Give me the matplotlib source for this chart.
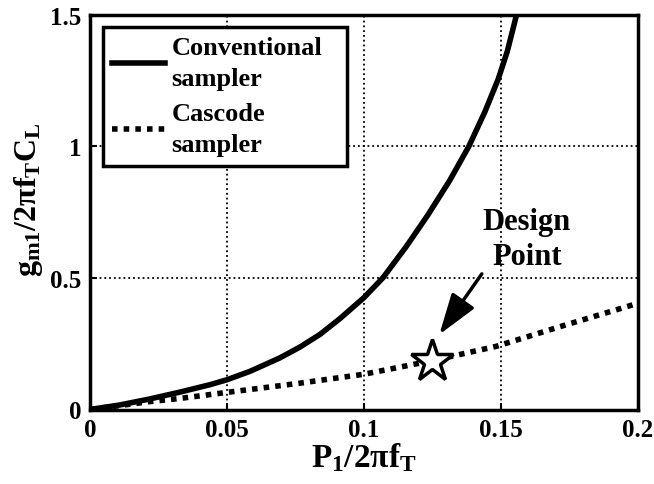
import matplotlib
matplotlib.use("Agg")
import matplotlib.pyplot as plt

# values
conv_x = [0, 0.0108, 0.0218, 0.0328, 0.0437, 0.05, 0.0584, 0.0693, 0.0766, 0.0839,
          0.0912, 0.1, 0.1069, 0.1155, 0.1234, 0.1313, 0.1383, 0.1441, 0.149,
          0.1523, 0.1557]
conv_y = [0, 0.017, 0.040, 0.066, 0.094, 0.113, 0.145, 0.196, 0.237, 0.285,
          0.345, 0.425, 0.5, 0.62, 0.74, 0.87, 1.0, 1.13, 1.255,
          1.36, 1.5]
casc_x = [0, 0.0218, 0.0328, 0.05, 0.0766, 0.1, 0.1247, 0.1483, 0.1726, 0.197, 0.2]
casc_y = [0, 0.03, 0.042, 0.065, 0.1, 0.134, 0.185, 0.24, 0.318, 0.394, 0.405]
design_x, design_y = 0.1247, 0.185

plt.rcParams['font.family'] = 'Liberation Serif'
plt.rcParams['font.weight'] = 'bold'
plt.rcParams['mathtext.fontset'] = 'custom'
plt.rcParams['mathtext.rm'] = 'Liberation Serif:bold'
plt.rcParams['mathtext.it'] = 'Liberation Serif:bold'
plt.rcParams['mathtext.bf'] = 'Liberation Serif:bold'

fig = plt.figure(figsize=(6.54, 4.85), dpi=100)
ax = fig.add_axes([90/654, 1 - 410.5/485, (638-90)/654, (410.5-15.5)/485])

ax.plot(conv_x, conv_y, color='black', lw=4, solid_joinstyle='round',
        label='Conventional\nsampler')
ax.plot(casc_x, casc_y, color='black', lw=4, linestyle=(0, (1, 1.1)),
        label='Cascode\nsampler')
ax.plot(design_x, design_y, marker='*', markersize=32, markerfacecolor='white',
        markeredgecolor='black', markeredgewidth=2.5, zorder=5)
ax.annotate('', xy=(0.1275, 0.285), xytext=(0.143, 0.515),
            arrowprops=dict(arrowstyle='-|>,head_length=0.9,head_width=0.3',
                            color='black', lw=2.5,
                            mutation_scale=28, shrinkA=0, shrinkB=0))
ax.text(0.1594, 0.648, 'Design\nPoint', ha='center', va='center', fontsize=22,
        fontweight='bold', linespacing=1.25)

ax.set_xlim(0, 0.2)
ax.set_ylim(0, 1.5)
ax.set_xticks([0, 0.05, 0.1, 0.15, 0.2])
ax.set_xticklabels(['0', '0.05', '0.1', '0.15', '0.2'])
ax.set_yticks([0, 0.5, 1, 1.5])
ax.set_yticklabels(['0', '0.5', '1', '1.5'])
ax.tick_params(direction='in', length=5, width=1.5, labelsize=18, pad=6)
for s in ax.spines.values():
    s.set_linewidth(2.5)
ax.grid(True, color='black', linestyle=':', linewidth=1.3)

ax.set_xlabel(r'$P_1/2\pi f_T$', fontsize=24, labelpad=0)
ax.set_ylabel(r'$g_{m1}/2\pi f_T C_L$', fontsize=23)
ax.yaxis.set_label_coords(-0.082, 0.533)

leg = ax.legend(loc='upper left', fontsize=19, frameon=True, fancybox=False,
                borderpad=0.35, handlelength=2.0, labelspacing=0.45,
                handletextpad=0.25, borderaxespad=0, mode='expand',
                bbox_to_anchor=(0.0237, 0, 0.445, 0.968))
for t in leg.get_texts():
    t.set_linespacing(1.45)
leg.get_frame().set_edgecolor('black')
leg.get_frame().set_linewidth(2.5)
leg.get_frame().set_alpha(1)

fig.savefig('out.png', dpi=100)
